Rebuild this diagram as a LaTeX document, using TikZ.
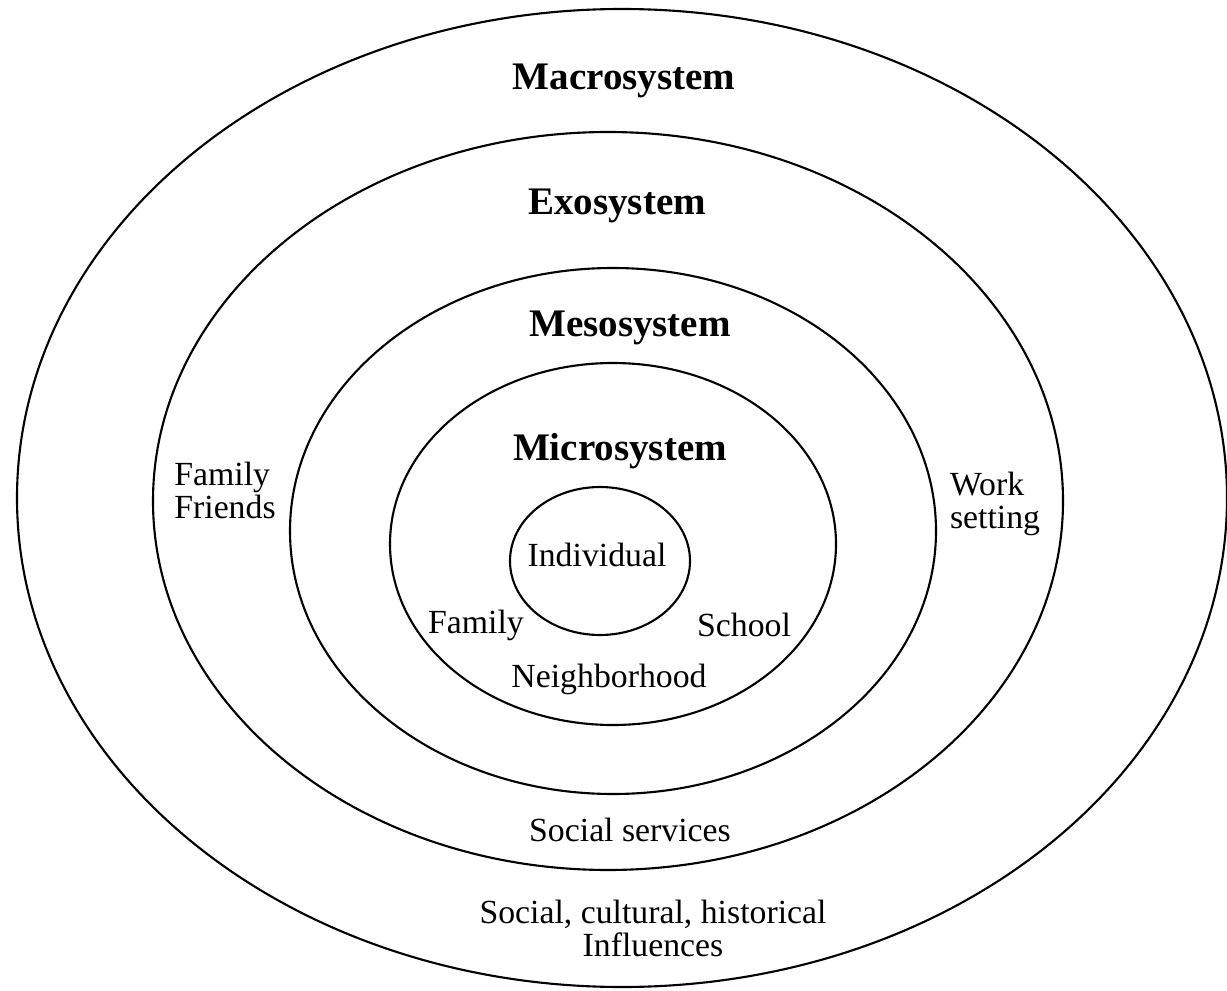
\documentclass[tikz,border=0pt]{standalone}
\usepackage{fontspec}
\setmainfont{Liberation Serif}

\begin{document}
\begin{tikzpicture}[x=0.01cm, y=0.01cm]

		\tikzstyle{ring} = [draw=black, line width=0.6pt]
		\tikzstyle{system} = [font=\fontsize{11.1}{13}\selectfont\bfseries]
		\tikzstyle{setting} = [font=\fontsize{9.6}{9.4}\selectfont]

		\useasboundingbox (0,0) rectangle (1227,990);

		\draw[ring] (622,492) ellipse [x radius=605, y radius=489];
		\draw[ring] (608,489) ellipse [x radius=455, y radius=369];
		\draw[ring] (613,459) ellipse [x radius=323, y radius=263];
		\draw[ring] (613,446) ellipse [x radius=223, y radius=181];
		\draw[ring] (600,429) ellipse [x radius=90, y radius=74];

		\node[system](macro) at (624,909){Macrosystem};
		\node[system](exo) at (617,784){Exosystem};
		\node[system](meso) at (630,662){Mesosystem};
		\node[system](micro) at (620,539){Microsystem};

		\node[setting, align=left](friends) at (225,500){Family\\Friends};
		\node[setting, align=left](work) at (995,486){Work\\setting};
		\node[setting](individual) at (597,435){Individual};
		\node[setting](family) at (476,365){Family};
		\node[setting](school) at (744,365){School};
		\node[setting](neighborhood) at (609,311){Neighborhood};
		\node[setting](services) at (630,160){Social services};
		\node[setting, align=center](influences) at (653,62){Social, cultural, historical\\Influences};

\end{tikzpicture}
\end{document}
